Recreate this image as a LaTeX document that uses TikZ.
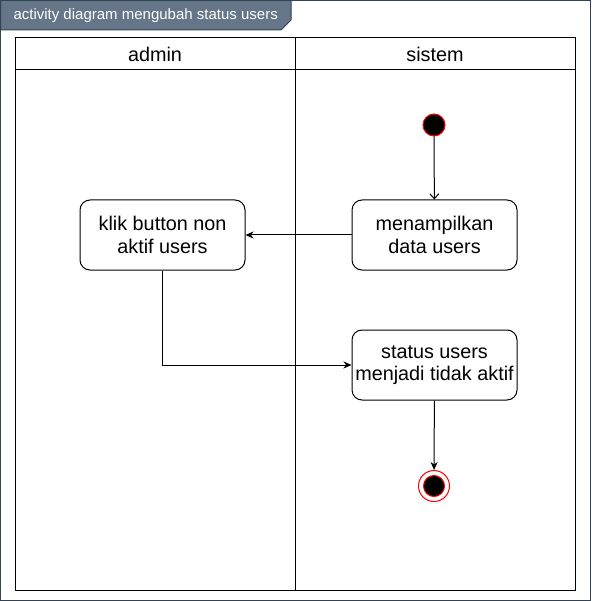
\documentclass[tikz,border=0pt]{standalone}
\usepackage{fontspec}
\setmainfont{Liberation Sans}
\usetikzlibrary{arrows.meta}
\definecolor{framefill}{HTML}{647687}
\definecolor{framedraw}{HTML}{314354}
\tikzset{
  act/.style={draw, rounded corners=10pt, minimum width=165pt, minimum height=70pt,
    align=center, inner sep=0pt, font=\fontsize{19.8}{22.5}\selectfont},
  lanelabel/.style={font=\fontsize{19.8}{22.5}\selectfont},
  startnode/.style={circle, draw=red, fill=black, minimum size=22pt, inner sep=0pt},
  endnode/.style={circle, draw=red, minimum size=31pt, inner sep=0pt,
    path picture={\filldraw[fill=black, draw=red] (path picture bounding box.center) circle (10.5pt);}},
  flow/.style={-{Stealth[length=8pt,width=7pt,inset=2.5pt]}},
  openflow/.style={-{Straight Barb[length=5pt,width=9pt]}}
}

\begin{document}
\begin{tikzpicture}[x=1pt, y=-1pt, line width=1pt]
  \useasboundingbox (0,0) rectangle (591,601);
  \draw[framedraw] (0.5,0.5) rectangle (590,600);
  \filldraw[fill=framefill, draw=framedraw] (0.5,0.5) -- (291,0.5) -- (291,20) -- (281,30) -- (0.5,30) -- cycle;
  \node[white, anchor=west, inner sep=0pt, font=\fontsize{15}{18}\selectfont] (title) at (13,16) {activity diagram mengubah status users};

  \draw (15,38) rectangle (575,590);
  \draw (15,70) -- (575,70);
  \draw (295,38) -- (295,590);
  \node[lanelabel] (admin) at (155,54) {admin};
  \node[lanelabel] (sistem) at (435,54) {sistem};

  \node[startnode] (start) at (434,125) {};
  \node[act] (tampil) at (434.5,235) {menampilkan\\data users};
  \node[act] (klik) at (162.5,235) {klik button non\\aktif users};
  \node[act] (status) at (434.5,365) {status users\\menjadi tidak aktif};
  \node[endnode] (end) at (434,486) {};

  \draw[openflow] (start) -- (tampil);
  \draw[flow] (tampil) -- (klik);
  \draw[flow] (klik) |- (status);
  \draw[flow] (status) -- (end);
\end{tikzpicture}
\end{document}
